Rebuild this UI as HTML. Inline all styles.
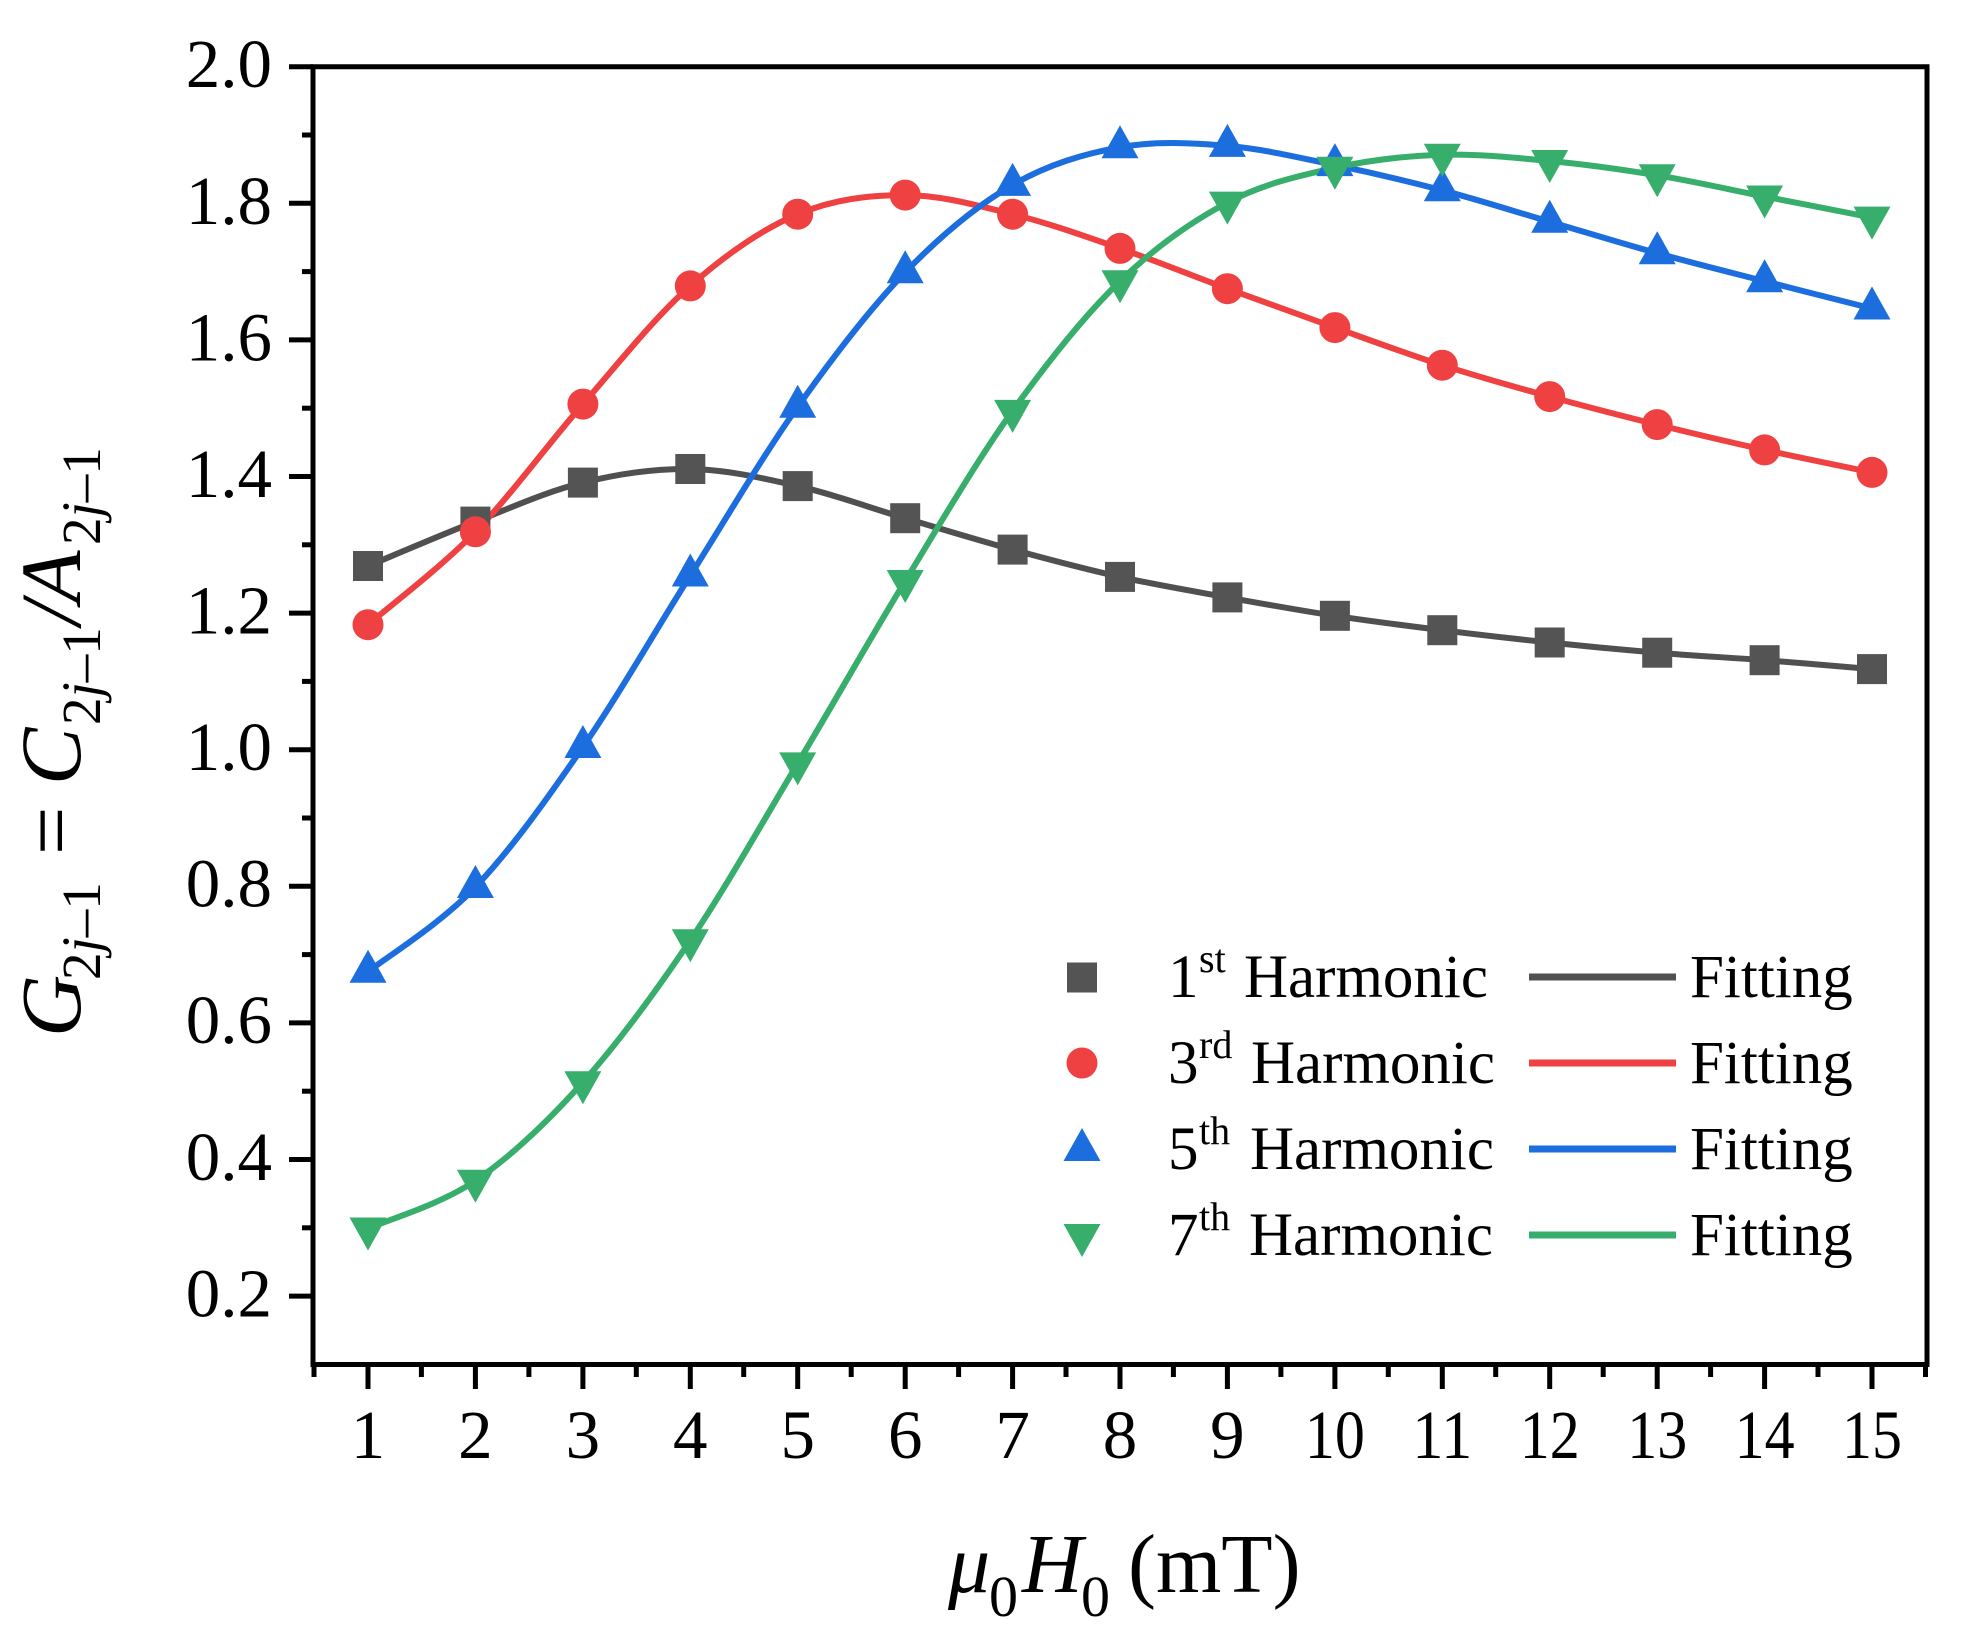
<!DOCTYPE html>
<html>
<head>
<meta charset="utf-8">
<style>
html,body{margin:0;padding:0;background:#fff;}
svg{display:block;}
text{font-family:"Liberation Serif","Times New Roman",serif;fill:#000;}
</style>
</head>
<body>
<svg width="1977" height="1647" viewBox="0 0 1977 1647" xmlns="http://www.w3.org/2000/svg">
<defs>
  <rect id="sq" x="-15" y="-15" width="30" height="30" fill="#545454"/>
  <circle id="ci" cx="0" cy="0" r="15.5" fill="#EF4142"/>
  <polygon id="tu" points="0,-22 18.5,11 -18.5,11" fill="#1C6DDD"/>
  <polygon id="td" points="0,22 18.5,-11 -18.5,-11" fill="#37AE6B"/>
</defs>
<rect width="1977" height="1647" fill="#fff"/>

<!-- frame -->
<path d="M313,1364.5 L313,66.7 L1927,66.7 L1927,1364.5 Z" fill="none" stroke="#000" stroke-width="5"/>

<!-- y ticks -->
<g stroke="#000" stroke-width="5">
  <line x1="289" y1="66.7" x2="313" y2="66.7"/>
  <line x1="289" y1="203.3" x2="313" y2="203.3"/>
  <line x1="289" y1="339.9" x2="313" y2="339.9"/>
  <line x1="289" y1="476.5" x2="313" y2="476.5"/>
  <line x1="289" y1="613.1" x2="313" y2="613.1"/>
  <line x1="289" y1="749.7" x2="313" y2="749.7"/>
  <line x1="289" y1="886.3" x2="313" y2="886.3"/>
  <line x1="289" y1="1022.9" x2="313" y2="1022.9"/>
  <line x1="289" y1="1159.5" x2="313" y2="1159.5"/>
  <line x1="289" y1="1296.1" x2="313" y2="1296.1"/>
  <line x1="302" y1="135" x2="313" y2="135"/>
  <line x1="302" y1="271.6" x2="313" y2="271.6"/>
  <line x1="302" y1="408.2" x2="313" y2="408.2"/>
  <line x1="302" y1="544.8" x2="313" y2="544.8"/>
  <line x1="302" y1="681.4" x2="313" y2="681.4"/>
  <line x1="302" y1="818" x2="313" y2="818"/>
  <line x1="302" y1="954.6" x2="313" y2="954.6"/>
  <line x1="302" y1="1091.2" x2="313" y2="1091.2"/>
  <line x1="302" y1="1227.8" x2="313" y2="1227.8"/>
</g>

<!-- x ticks -->
<g stroke="#000" stroke-width="5">
  <line x1="368" y1="1364.5" x2="368" y2="1389"/>
  <line x1="475.4" y1="1364.5" x2="475.4" y2="1389"/>
  <line x1="582.9" y1="1364.5" x2="582.9" y2="1389"/>
  <line x1="690.3" y1="1364.5" x2="690.3" y2="1389"/>
  <line x1="797.7" y1="1364.5" x2="797.7" y2="1389"/>
  <line x1="905.2" y1="1364.5" x2="905.2" y2="1389"/>
  <line x1="1012.6" y1="1364.5" x2="1012.6" y2="1389"/>
  <line x1="1120" y1="1364.5" x2="1120" y2="1389"/>
  <line x1="1227.4" y1="1364.5" x2="1227.4" y2="1389"/>
  <line x1="1334.9" y1="1364.5" x2="1334.9" y2="1389"/>
  <line x1="1442.3" y1="1364.5" x2="1442.3" y2="1389"/>
  <line x1="1549.7" y1="1364.5" x2="1549.7" y2="1389"/>
  <line x1="1657.2" y1="1364.5" x2="1657.2" y2="1389"/>
  <line x1="1764.6" y1="1364.5" x2="1764.6" y2="1389"/>
  <line x1="1872" y1="1364.5" x2="1872" y2="1389"/>
  <line x1="314" y1="1364.5" x2="314" y2="1377"/>
  <line x1="421.4" y1="1364.5" x2="421.4" y2="1377"/>
  <line x1="528.9" y1="1364.5" x2="528.9" y2="1377"/>
  <line x1="636.3" y1="1364.5" x2="636.3" y2="1377"/>
  <line x1="743.7" y1="1364.5" x2="743.7" y2="1377"/>
  <line x1="851.2" y1="1364.5" x2="851.2" y2="1377"/>
  <line x1="958.6" y1="1364.5" x2="958.6" y2="1377"/>
  <line x1="1066" y1="1364.5" x2="1066" y2="1377"/>
  <line x1="1173.4" y1="1364.5" x2="1173.4" y2="1377"/>
  <line x1="1280.9" y1="1364.5" x2="1280.9" y2="1377"/>
  <line x1="1388.3" y1="1364.5" x2="1388.3" y2="1377"/>
  <line x1="1495.7" y1="1364.5" x2="1495.7" y2="1377"/>
  <line x1="1603.2" y1="1364.5" x2="1603.2" y2="1377"/>
  <line x1="1710.6" y1="1364.5" x2="1710.6" y2="1377"/>
  <line x1="1818" y1="1364.5" x2="1818" y2="1377"/>
  <line x1="1925.5" y1="1364.5" x2="1925.5" y2="1377"/>
</g>

<!-- y tick labels -->
<g font-size="69" text-anchor="end">
  <text x="272" y="87">2.0</text>
  <text x="272" y="224">1.8</text>
  <text x="272" y="360.5">1.6</text>
  <text x="272" y="497">1.4</text>
  <text x="272" y="633.5">1.2</text>
  <text x="272" y="770">1.0</text>
  <text x="272" y="906.5">0.8</text>
  <text x="272" y="1043">0.6</text>
  <text x="272" y="1180">0.4</text>
  <text x="272" y="1316.5">0.2</text>
</g>

<!-- x tick labels -->
<g font-size="69" text-anchor="middle">
  <text x="368" y="1458">1</text>
  <text x="475.4" y="1458">2</text>
  <text x="582.9" y="1458">3</text>
  <text x="690.3" y="1458">4</text>
  <text x="797.7" y="1458">5</text>
  <text x="905.2" y="1458">6</text>
  <text x="1012.6" y="1458">7</text>
  <text x="1120" y="1458">8</text>
  <text x="1227.4" y="1458">9</text>
  <text x="1334.9" y="1458" textLength="60" lengthAdjust="spacingAndGlyphs">10</text>
  <text x="1442.3" y="1458" textLength="60" lengthAdjust="spacingAndGlyphs">11</text>
  <text x="1549.7" y="1458" textLength="60" lengthAdjust="spacingAndGlyphs">12</text>
  <text x="1657.2" y="1458" textLength="60" lengthAdjust="spacingAndGlyphs">13</text>
  <text x="1764.6" y="1458" textLength="60" lengthAdjust="spacingAndGlyphs">14</text>
  <text x="1872" y="1458" textLength="60" lengthAdjust="spacingAndGlyphs">15</text>
</g>

<!-- x axis title -->
<g font-size="84">
  <text x="948" y="1592" font-style="italic">μ</text>
  <text x="989" y="1616" font-size="58">0</text>
  <text x="1022" y="1592" font-style="italic">H</text>
  <text x="1081" y="1616" font-size="58">0</text>
  <text x="1128" y="1592">(mT)</text>
</g>

<!-- y axis title -->
<g transform="translate(80,1037) rotate(-90)" font-size="86">
  <text x="0" y="0" font-style="italic">G</text>
  <text x="57" y="20" font-size="55">2<tspan font-style="italic">j</tspan>–1</text>
  <text x="182" y="0">=</text>
  <text x="252" y="0" font-style="italic">C</text>
  <text x="312" y="20" font-size="55">2<tspan font-style="italic">j</tspan>–1</text>
  <text x="412" y="0" font-style="italic">/</text>
  <text x="434" y="0" font-style="italic">A</text>
  <text x="492" y="20" font-size="55">2<tspan font-style="italic">j</tspan>–1</text>
</g>

<!-- fitted curves -->
<g fill="none" stroke-width="6" stroke-linecap="round" stroke-linejoin="round">
  <path stroke="#505050" d="M368,566 C385.9,558.6 439.6,535.5 475.4,521.6 S547.1,491.4 582.9,482.6 S654.5,468.4 690.3,469 S761.9,477.9 797.7,486.1 S869.4,507.6 905.2,518.2 S976.8,539.8 1012.6,549.6 S1084.2,568.9 1120,576.9 S1191.6,590.9 1227.4,597.4 S1299.1,610.3 1334.9,615.8 S1406.5,625.7 1442.3,630.2 S1513.9,638.7 1549.7,642.5 S1621.4,649.7 1657.2,652.7 S1728.8,657.5 1764.6,660.2 S1854.1,667.6 1872,669.1"/>
  <path stroke="#EF4142" d="M368,624.7 C385.9,609.2 439.6,568.6 475.4,531.8 S547.1,445.1 582.9,404.1 S654.5,317.6 690.3,285.9 S761.9,229.3 797.7,214.2 S869.4,195.1 905.2,195.1 S976.8,205.3 1012.6,214.2 S1084.2,236 1120,248.4 S1191.6,275.5 1227.4,288.7 S1299.1,314.8 1334.9,327.6 S1406.5,353.7 1442.3,365.2 S1513.9,386.7 1549.7,396.6 S1621.4,415.7 1657.2,424.6 S1728.8,441.9 1764.6,449.9 S1854.1,468.7 1872,472.4"/>
  <path stroke="#1C6DDD" d="M368,971.7 C385.9,957.6 439.6,924.5 475.4,887 S547.1,798.9 582.9,747 S654.5,632.2 690.3,575.5 S761.9,457.3 797.7,406.8 S869.4,309.3 905.2,272.3 S976.8,205.7 1012.6,184.9 S1084.2,153.8 1120,147.3 S1191.6,142.9 1227.4,145.9 S1299.1,157.7 1334.9,165.1 S1406.5,180.9 1442.3,190.3 S1513.9,211.2 1549.7,221.7 S1621.4,243.3 1657.2,253.2 S1728.8,272 1764.6,281.2 S1854.1,304 1872,308.5"/>
  <path stroke="#37AE6B" d="M368,1228.5 C385.9,1220.5 439.6,1205.1 475.4,1180.7 S547.1,1122.4 582.9,1082.3 S654.5,993.5 690.3,940.3 S761.9,823.3 797.7,763.4 S869.4,639.8 905.2,581 S976.8,460.9 1012.6,410.9 S1084.2,315.9 1120,281.2 S1191.6,221.5 1227.4,202.6 S1299.1,175.8 1334.9,167.8 S1406.5,155.9 1442.3,154.8 S1513.9,157.6 1549.7,161 S1621.4,169.4 1657.2,175.3 S1728.8,189.4 1764.6,196.5 S1854.1,214.1 1872,217.6"/>
</g>

<!-- markers: 1st -->
<g>
  <use href="#sq" x="368" y="566"/>
  <use href="#sq" x="475.4" y="521.6"/>
  <use href="#sq" x="582.9" y="482.6"/>
  <use href="#sq" x="690.3" y="469"/>
  <use href="#sq" x="797.7" y="486.1"/>
  <use href="#sq" x="905.2" y="518.2"/>
  <use href="#sq" x="1012.6" y="549.6"/>
  <use href="#sq" x="1120" y="576.9"/>
  <use href="#sq" x="1227.4" y="597.4"/>
  <use href="#sq" x="1334.9" y="615.8"/>
  <use href="#sq" x="1442.3" y="630.2"/>
  <use href="#sq" x="1549.7" y="642.5"/>
  <use href="#sq" x="1657.2" y="652.7"/>
  <use href="#sq" x="1764.6" y="660.2"/>
  <use href="#sq" x="1872" y="669.1"/>
</g>
<!-- markers: 3rd -->
<g>
  <use href="#ci" x="368" y="624.7"/>
  <use href="#ci" x="475.4" y="531.8"/>
  <use href="#ci" x="582.9" y="404.1"/>
  <use href="#ci" x="690.3" y="285.9"/>
  <use href="#ci" x="797.7" y="214.2"/>
  <use href="#ci" x="905.2" y="195.1"/>
  <use href="#ci" x="1012.6" y="214.2"/>
  <use href="#ci" x="1120" y="248.4"/>
  <use href="#ci" x="1227.4" y="288.7"/>
  <use href="#ci" x="1334.9" y="327.6"/>
  <use href="#ci" x="1442.3" y="365.2"/>
  <use href="#ci" x="1549.7" y="396.6"/>
  <use href="#ci" x="1657.2" y="424.6"/>
  <use href="#ci" x="1764.6" y="449.9"/>
  <use href="#ci" x="1872" y="472.4"/>
</g>
<!-- markers: 5th -->
<g>
  <use href="#tu" x="368" y="971.7"/>
  <use href="#tu" x="475.4" y="887"/>
  <use href="#tu" x="582.9" y="747"/>
  <use href="#tu" x="690.3" y="575.5"/>
  <use href="#tu" x="797.7" y="406.8"/>
  <use href="#tu" x="905.2" y="272.3"/>
  <use href="#tu" x="1012.6" y="184.9"/>
  <use href="#tu" x="1120" y="147.3"/>
  <use href="#tu" x="1227.4" y="145.9"/>
  <use href="#tu" x="1334.9" y="165.1"/>
  <use href="#tu" x="1442.3" y="190.3"/>
  <use href="#tu" x="1549.7" y="221.7"/>
  <use href="#tu" x="1657.2" y="253.2"/>
  <use href="#tu" x="1764.6" y="281.2"/>
  <use href="#tu" x="1872" y="308.5"/>
</g>
<!-- markers: 7th -->
<g>
  <use href="#td" x="368" y="1228.5"/>
  <use href="#td" x="475.4" y="1180.7"/>
  <use href="#td" x="582.9" y="1082.3"/>
  <use href="#td" x="690.3" y="940.3"/>
  <use href="#td" x="797.7" y="763.4"/>
  <use href="#td" x="905.2" y="581"/>
  <use href="#td" x="1012.6" y="410.9"/>
  <use href="#td" x="1120" y="281.2"/>
  <use href="#td" x="1227.4" y="202.6"/>
  <use href="#td" x="1334.9" y="167.8"/>
  <use href="#td" x="1442.3" y="154.8"/>
  <use href="#td" x="1549.7" y="161"/>
  <use href="#td" x="1657.2" y="175.3"/>
  <use href="#td" x="1764.6" y="196.5"/>
  <use href="#td" x="1872" y="217.6"/>
</g>

<!-- legend -->
<g>
  <use href="#sq" x="1082" y="977.5"/>
  <use href="#ci" x="1082" y="1063"/>
  <use href="#tu" x="1082" y="1150"/>
  <use href="#td" x="1082" y="1235"/>
</g>
<g font-size="61">
  <text x="1168" y="997">1</text>
  <text x="1199" y="972" font-size="40">st</text>
  <text x="1244" y="997">Harmonic</text>

  <text x="1168" y="1083">3</text>
  <text x="1199" y="1058" font-size="40">rd</text>
  <text x="1251" y="1083">Harmonic</text>

  <text x="1168" y="1169">5</text>
  <text x="1199" y="1144" font-size="40">th</text>
  <text x="1250" y="1169">Harmonic</text>

  <text x="1168" y="1255">7</text>
  <text x="1199" y="1230" font-size="40">th</text>
  <text x="1249" y="1255">Harmonic</text>

  <text x="1690" y="997">Fitting</text>
  <text x="1690" y="1083">Fitting</text>
  <text x="1690" y="1169">Fitting</text>
  <text x="1690" y="1255">Fitting</text>
</g>
<g stroke-width="7">
  <line x1="1529" y1="977" x2="1676" y2="977" stroke="#505050"/>
  <line x1="1529" y1="1063" x2="1676" y2="1063" stroke="#EF4142"/>
  <line x1="1529" y1="1149" x2="1676" y2="1149" stroke="#1C6DDD"/>
  <line x1="1529" y1="1235" x2="1676" y2="1235" stroke="#37AE6B"/>
</g>
</svg>
</body>
</html>
